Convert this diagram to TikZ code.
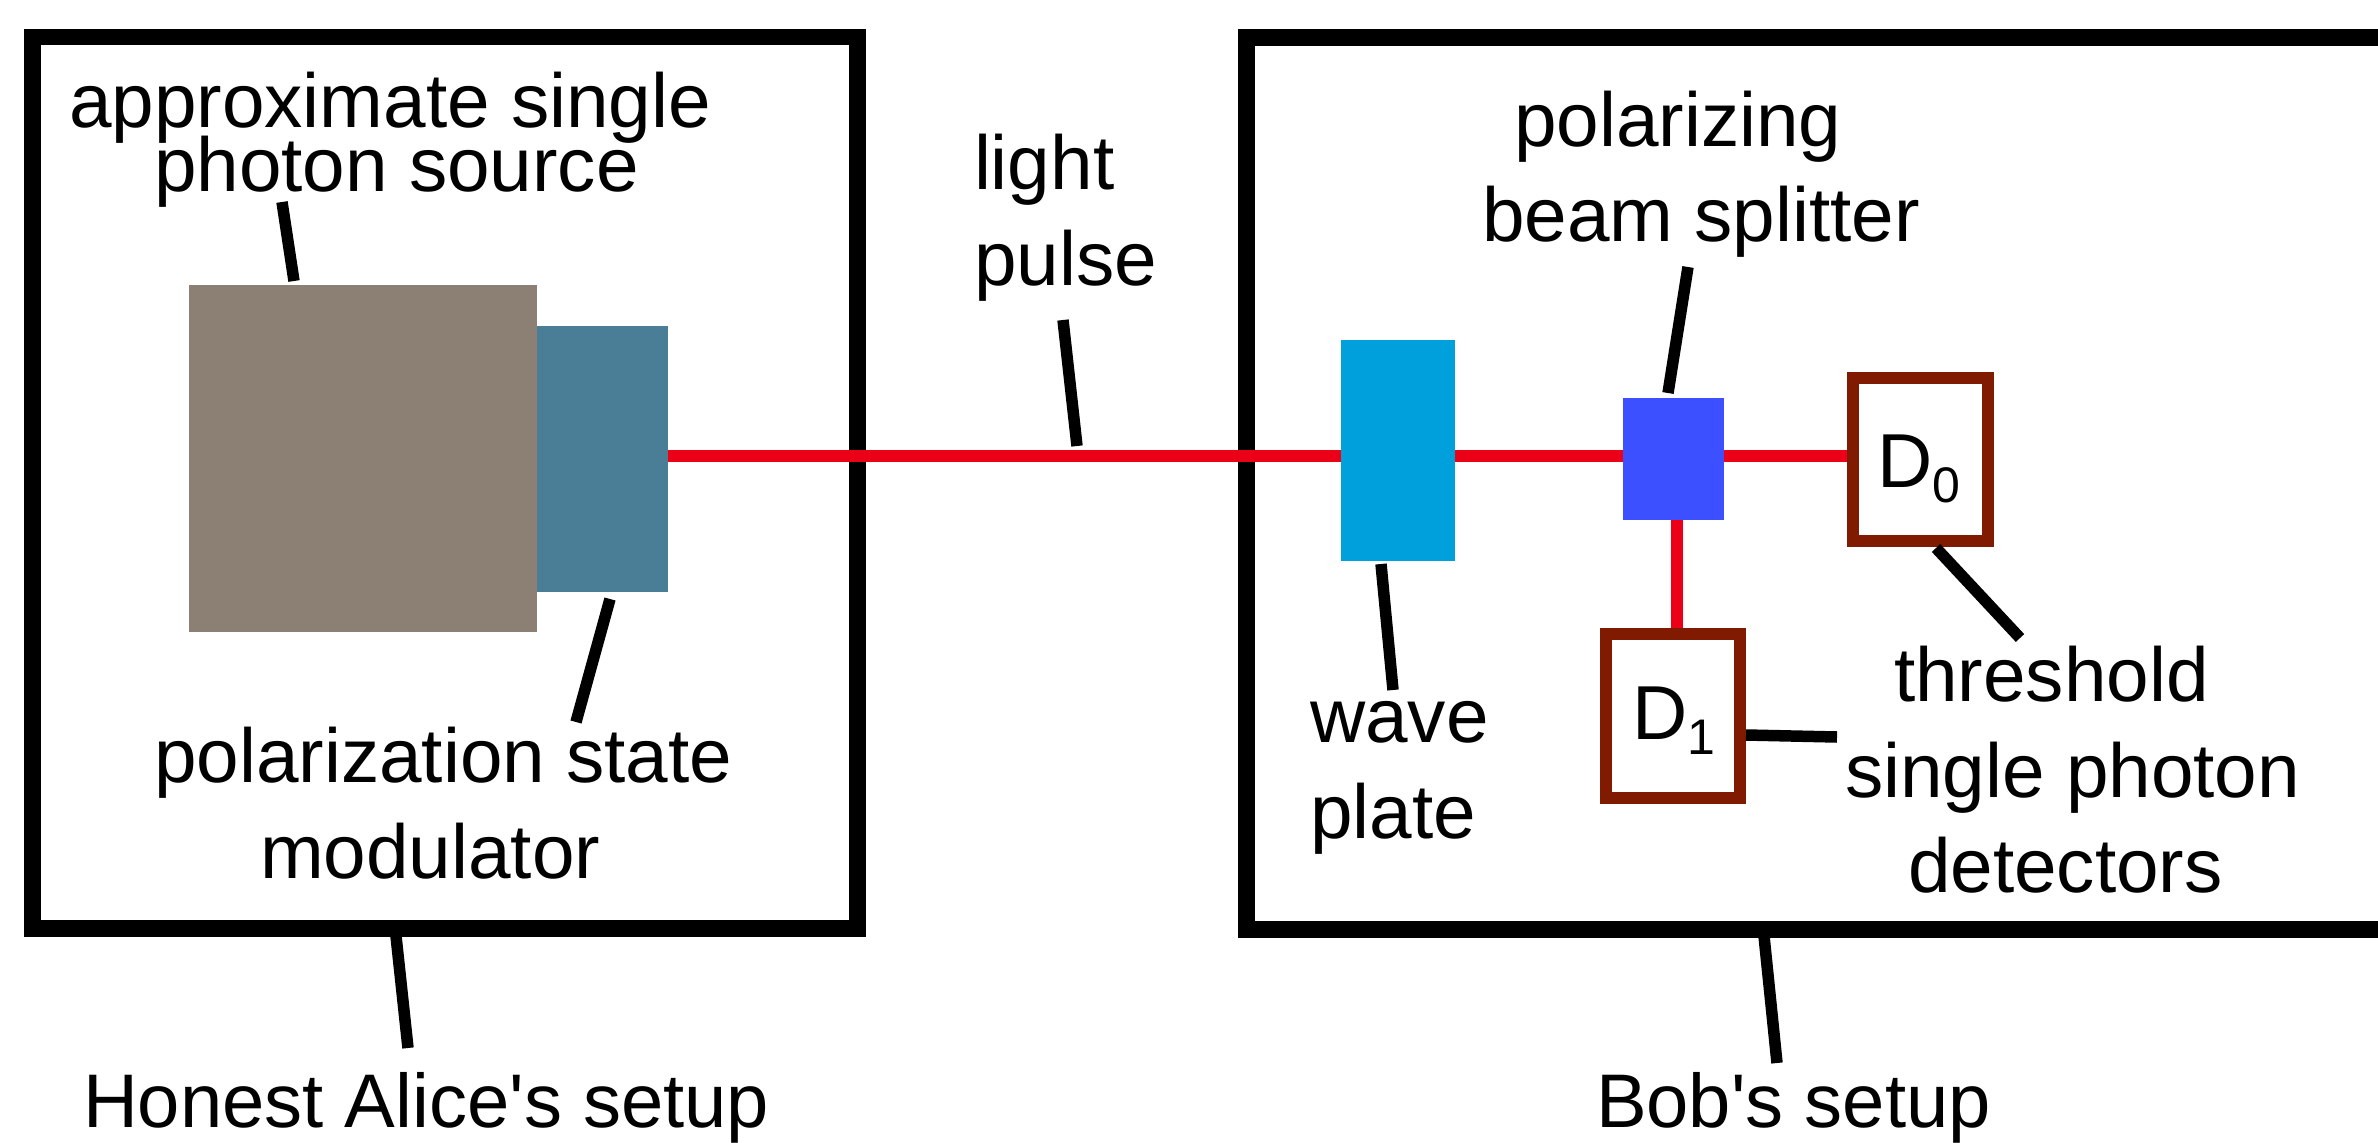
\documentclass[tikz,border=0pt]{standalone}
\usepackage{fontspec}
\newfontfamily\lblfont{Liberation Sans}
\definecolor{detred}{HTML}{801A00}
\definecolor{beamred}{HTML}{EC0018}
\definecolor{srccol}{HTML}{8C7F73}
\definecolor{modcol}{HTML}{4A7D96}
\definecolor{wavecol}{HTML}{00A0DC}
\definecolor{pbscol}{HTML}{3C50FF}
\tikzset{
  x=1pt,y=-1pt,
  lbl/.style={anchor=base west,inner sep=0pt,outer sep=0pt,font=\lblfont\fontsize{76.5}{90}\selectfont},
  setupbox/.style={draw=black,line width=16.8,fill=none},
  block/.style={draw=none,inner sep=0pt,outer sep=0pt,anchor=north west},
  detbox/.style={draw=detred,line width=12,fill=white,inner sep=0pt,outer sep=0pt,anchor=north west},
  beam/.style={draw=beamred,line width=11.6},
  leader/.style={draw=black,line width=11.5},
}
\newcommand{\detsub}[1]{D\raisebox{-15pt}{\fontsize{50}{50}\selectfont #1}}
\begin{document}
\begin{tikzpicture}
\useasboundingbox (0,0) rectangle (2378,1143);
\clip (0,0) rectangle (2378,1143);
\node[block,minimum width=348,minimum height=347,fill=srccol] (source) at (189,285) {};
\node[block,minimum width=131,minimum height=266,fill=modcol] (modulator) at (537,326) {};
\node[block,minimum width=114,minimum height=221,fill=wavecol] (waveplate) at (1341,340) {};
\node[block,minimum width=101,minimum height=122,fill=pbscol] (pbs) at (1623,398) {};
\coordinate (modout) at (668,456);
\coordinate (waveL) at (1341,456);
\coordinate (waveR) at (1455,456);
\coordinate (pbsL) at (1623,456);
\coordinate (pbsR) at (1724,456);
\coordinate (d0L) at (1850,456);
\coordinate (pbsB) at (1676.8,520);
\coordinate (d1T) at (1676.8,630);
\draw[setupbox] (32.8,37) rectangle (857.3,928.3);
\draw[setupbox] (1246.3,37.5) rectangle (2440,929.5);
\draw[beam] (modout) -- (waveL);
\draw[beam] (waveR) -- (pbsL);
\draw[beam] (pbsR) -- (d0L);
\draw[beam] (pbsB) -- (d1T);
\node[detbox,minimum width=134.5,minimum height=163.5] (d0) at (1853,377.5) {};
\node[detbox,minimum width=134.5,minimum height=163.5] (d1) at (1605.5,634) {};
% leader ends
\coordinate (a1) at (282,202);  \coordinate (a2) at (294,281);
\coordinate (b1) at (610,599);  \coordinate (b2) at (576,722);
\coordinate (c1) at (396,936);  \coordinate (c2) at (408,1048);
\coordinate (e1) at (1063,320); \coordinate (e2) at (1077,446);
\coordinate (f1) at (1381,564); \coordinate (f2) at (1393,690);
\coordinate (g1) at (1688,267); \coordinate (g2) at (1668,393);
\coordinate (h1) at (1936,548); \coordinate (h2) at (2020,638);
\coordinate (i1) at (1746,735); \coordinate (i2) at (1837,737);
\coordinate (j1) at (1764,936); \coordinate (j2) at (1777,1063);
\draw[leader] (a1) -- (a2);
\draw[leader] (b1) -- (b2);
\draw[leader] (c1) -- (c2);
\draw[leader] (e1) -- (e2);
\draw[leader] (f1) -- (f2);
\draw[leader] (g1) -- (g2);
\draw[leader] (h1) -- (h2);
\draw[leader] (i1) -- (i2);
\draw[leader] (j1) -- (j2);
% labels
\node[lbl] (t1) at (69,127) {approximate single};
\node[lbl] (t2) at (154,191) {photon source};
\node[lbl] (t3) at (974,189) {light};
\node[lbl] (t4) at (974,285) {pulse};
\node[lbl] (t5) at (1514,146) {polarizing};
\node[lbl] (t6) at (1482,241) {beam splitter};
\node[lbl] (t7) at (1877,487.5) {\detsub{0}};
\node[lbl] (t8) at (1632,739) {\detsub{1}};
\node[lbl] (t9) at (1894,701) {threshold};
\node[lbl] (t10) at (1845,797) {single photon};
\node[lbl] (t11) at (1908,892) {detectors};
\node[lbl] (t12) at (1310,742) {wave};
\node[lbl] (t13) at (1310,838) {plate};
\node[lbl] (t14) at (154,782) {polarization state};
\node[lbl] (t15) at (260,878) {modulator};
\node[lbl,font=\lblfont\fontsize{76}{90}\selectfont] (t16) at (83,1127) {Honest Alice's setup};
\node[lbl,font=\lblfont\fontsize{76}{90}\selectfont] (t17) at (1596,1127) {Bob's setup};
\end{tikzpicture}
\end{document}
